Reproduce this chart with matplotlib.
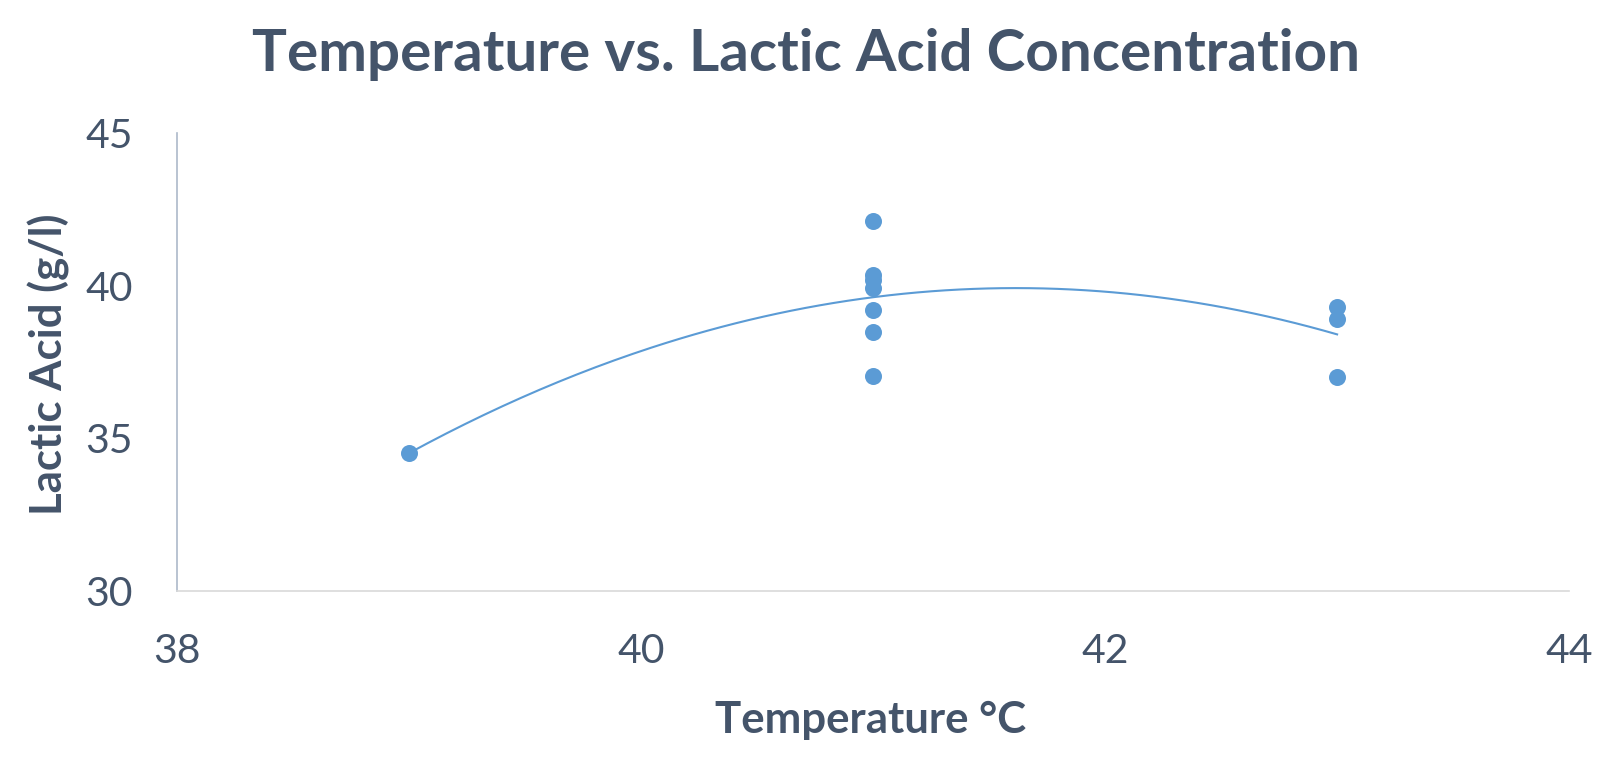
import numpy as np
import matplotlib
matplotlib.use("Agg")
import matplotlib.pyplot as plt

# Data
temperature = [39, 41, 41, 41, 41, 41, 41, 41, 43, 43, 43]
lactic_acid = [34.52, 42.14, 40.37, 40.20, 39.94, 39.21, 38.50, 37.06, 39.30, 38.91, 37.03]

x_ticks = [38, 40, 42, 44]
y_ticks = [30, 35, 40, 45]

title = "Temperature vs. Lactic Acid Concentration"
x_label = "Temperature \u00b0C"
y_label = "Lactic Acid (g/l)"

TEXT = "#44546A"
BLUE = "#5B9BD5"
FONT = ["Lato", "DejaVu Sans"]

plt.rcParams['font.family'] = FONT

fig = plt.figure(figsize=(16.11, 7.61), dpi=100)
ax = fig.add_axes([0.1099, 0.2234, 0.974 - 0.1099, 0.8246 - 0.2234])

ax.scatter(temperature, lactic_acid, s=150, color=BLUE, zorder=3, linewidths=0)

# second-order polynomial trendline
coef = np.polyfit(temperature, lactic_acid, 2)
xs = np.linspace(min(temperature), max(temperature), 200)
ax.plot(xs, np.polyval(coef, xs), color=BLUE, lw=1.5, zorder=2)

ax.set_xlim(38, 44)
ax.set_ylim(30, 45)
ax.set_xticks(x_ticks)
ax.set_yticks(y_ticks)
ax.tick_params(axis='both', length=0, labelsize=29.5, labelcolor=TEXT)
ax.tick_params(axis='x', pad=30)
ax.tick_params(axis='y', pad=32)

for s in ['top', 'right']:
    ax.spines[s].set_visible(False)
ax.spines['bottom'].set_color('#D9D9D9')
ax.spines['bottom'].set_linewidth(1.2)
ax.spines['left'].set_color('#ADB9CA')
ax.spines['left'].set_linewidth(1.2)

fig.text(0.5, 1 - 71 / 761, title, ha='center', va='baseline',
         fontsize=42, fontweight='bold', color=TEXT)
fig.text(871 / 1611, 1 - 733 / 761, x_label, ha='center', va='baseline',
         fontsize=31.5, fontweight='bold', color=TEXT)
fig.text(49 / 1611, 1 - 364 / 761, y_label, ha='center', va='center',
         rotation=90, fontsize=31.5, fontweight='bold', color=TEXT)

fig.savefig("out.png", dpi=100)
